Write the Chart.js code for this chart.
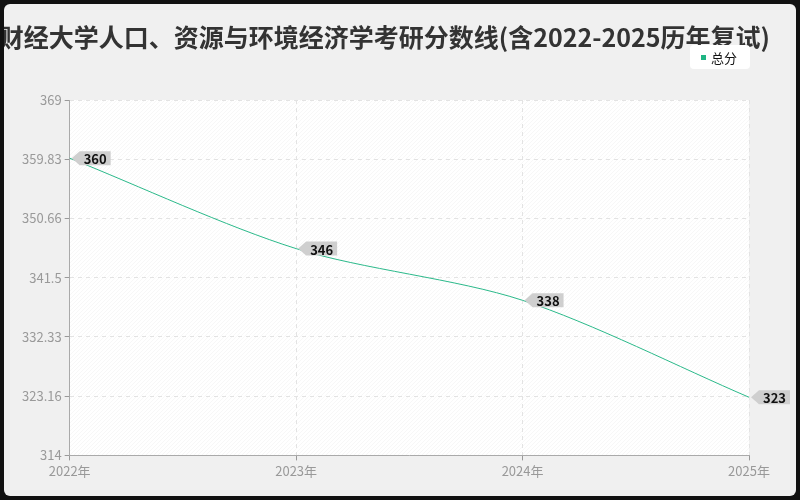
<!DOCTYPE html>
<html>
<head>
<meta charset="utf-8">
<script src="https://cdn.jsdelivr.net/npm/chart.js@4"></script>
<style>
  html, body { margin: 0; padding: 0; background: #111; }
  #wrap { position: absolute; left: 4px; top: 4px; width: 792px; height: 492px; background: #f0f0f0; border-radius: 6px; overflow: hidden; }
</style>
</head>
<body>
<div id="wrap"><canvas id="myChart" width="792" height="492"></canvas></div>
<script>
var years = ['2022年', '2023年', '2024年', '2025年'];
var scores = [360, 346, 338, 323];
var yTicks = [314, 323.16, 332.33, 341.5, 350.66, 359.83, 369];
var titleText = '西南财经大学人口、资源与环境经济学考研分数线(含2022-2025历年复试)';
var fontName = '"Noto Sans CJK SC", "Noto Sans", sans-serif';

// title, legend, hatched background and value tags
var decor = {
    id: 'decor',
    beforeDraw: function (chart) {
        var c = chart.ctx, a = chart.chartArea;
        c.save();
        c.fillStyle = '#ffffff';
        c.fillRect(a.left, a.top, a.right - a.left, a.bottom - a.top);
        c.beginPath();
        c.rect(a.left, a.top, a.right - a.left, a.bottom - a.top);
        c.clip();
        c.strokeStyle = 'rgba(0,0,0,0.035)';
        c.lineWidth = 1;
        for (var x = a.left - 400; x < a.right; x += 4) {
            c.beginPath();
            c.moveTo(x, a.bottom);
            c.lineTo(x + (a.bottom - a.top), a.top);
            c.stroke();
        }
        c.restore();
    },
    afterDraw: function (chart) {
        var c = chart.ctx;
        c.save();
        c.font = 'bold 25px ' + fontName;
        c.fillStyle = '#333';
        c.textAlign = 'right';
        c.textBaseline = 'middle';
        c.fillText(titleText, 766, 33);
        // legend
        c.fillStyle = '#fff';
        c.beginPath();
        c.roundRect(686, 41, 60, 24, 4);
        c.fill();
        c.fillStyle = '#1fb583';
        c.fillRect(697, 51, 5, 5);
        c.fillStyle = '#111';
        c.font = '13px ' + fontName;
        c.textAlign = 'left';
        c.fillText('总分', 707, 54);
        // tags
        var meta = chart.getDatasetMeta(0);
        c.font = 'bold 13px ' + fontName;
        meta.data.forEach(function (p, i) {
            var txt = String(scores[i]);
            var w = c.measureText(txt).width + 8;
            var x = p.x + 2, y = p.y;
            c.fillStyle = '#cfcfcf';
            c.beginPath();
            c.moveTo(x, y);
            c.lineTo(x + 8, y - 7);
            c.lineTo(x + 8 + w, y - 7);
            c.lineTo(x + 8 + w, y + 7);
            c.lineTo(x + 8, y + 7);
            c.closePath();
            c.fill();
            c.fillStyle = '#111';
            c.fillText(txt, x + 12, y + 1);
        });
        c.restore();
    }
};

var ctx = document.getElementById('myChart');
var chart = new Chart(ctx, {
    type: 'line',
    data: {
        labels: years,
        datasets: [{
            label: '总分',
            data: scores,
            borderColor: '#2bb98a',
            borderWidth: 1,
            pointRadius: 0,
            tension: 0.3,
            fill: false
        }]
    },
    options: {
        responsive: false,
        animation: false,
        layout: { padding: { top: 96, left: 15, right: 47, bottom: 14 } },
        plugins: {
            legend: { display: false },
            title: { display: false },
            tooltip: { enabled: false }
        },
        scales: {
            x: {
                offset: false,
                grid: { color: '#e3e3e3', tickColor: '#999', tickLength: 5 },
                border: { color: '#aaa', dash: [4, 4] },
                ticks: { color: '#999', font: { family: fontName, size: 13 } }
            },
            y: {
                min: 314,
                max: 369,
                afterBuildTicks: function (s) { s.ticks = yTicks.map(function (v) { return { value: v }; }); },
                grid: { color: '#e3e3e3', tickColor: '#999', tickLength: 5 },
                border: { color: '#aaa', dash: [4, 4] },
                ticks: { color: '#999', font: { family: fontName, size: 13 }, callback: function (v) { return String(v); } }
            }
        }
    },
    plugins: [decor]
});
</script>
</body>
</html>
